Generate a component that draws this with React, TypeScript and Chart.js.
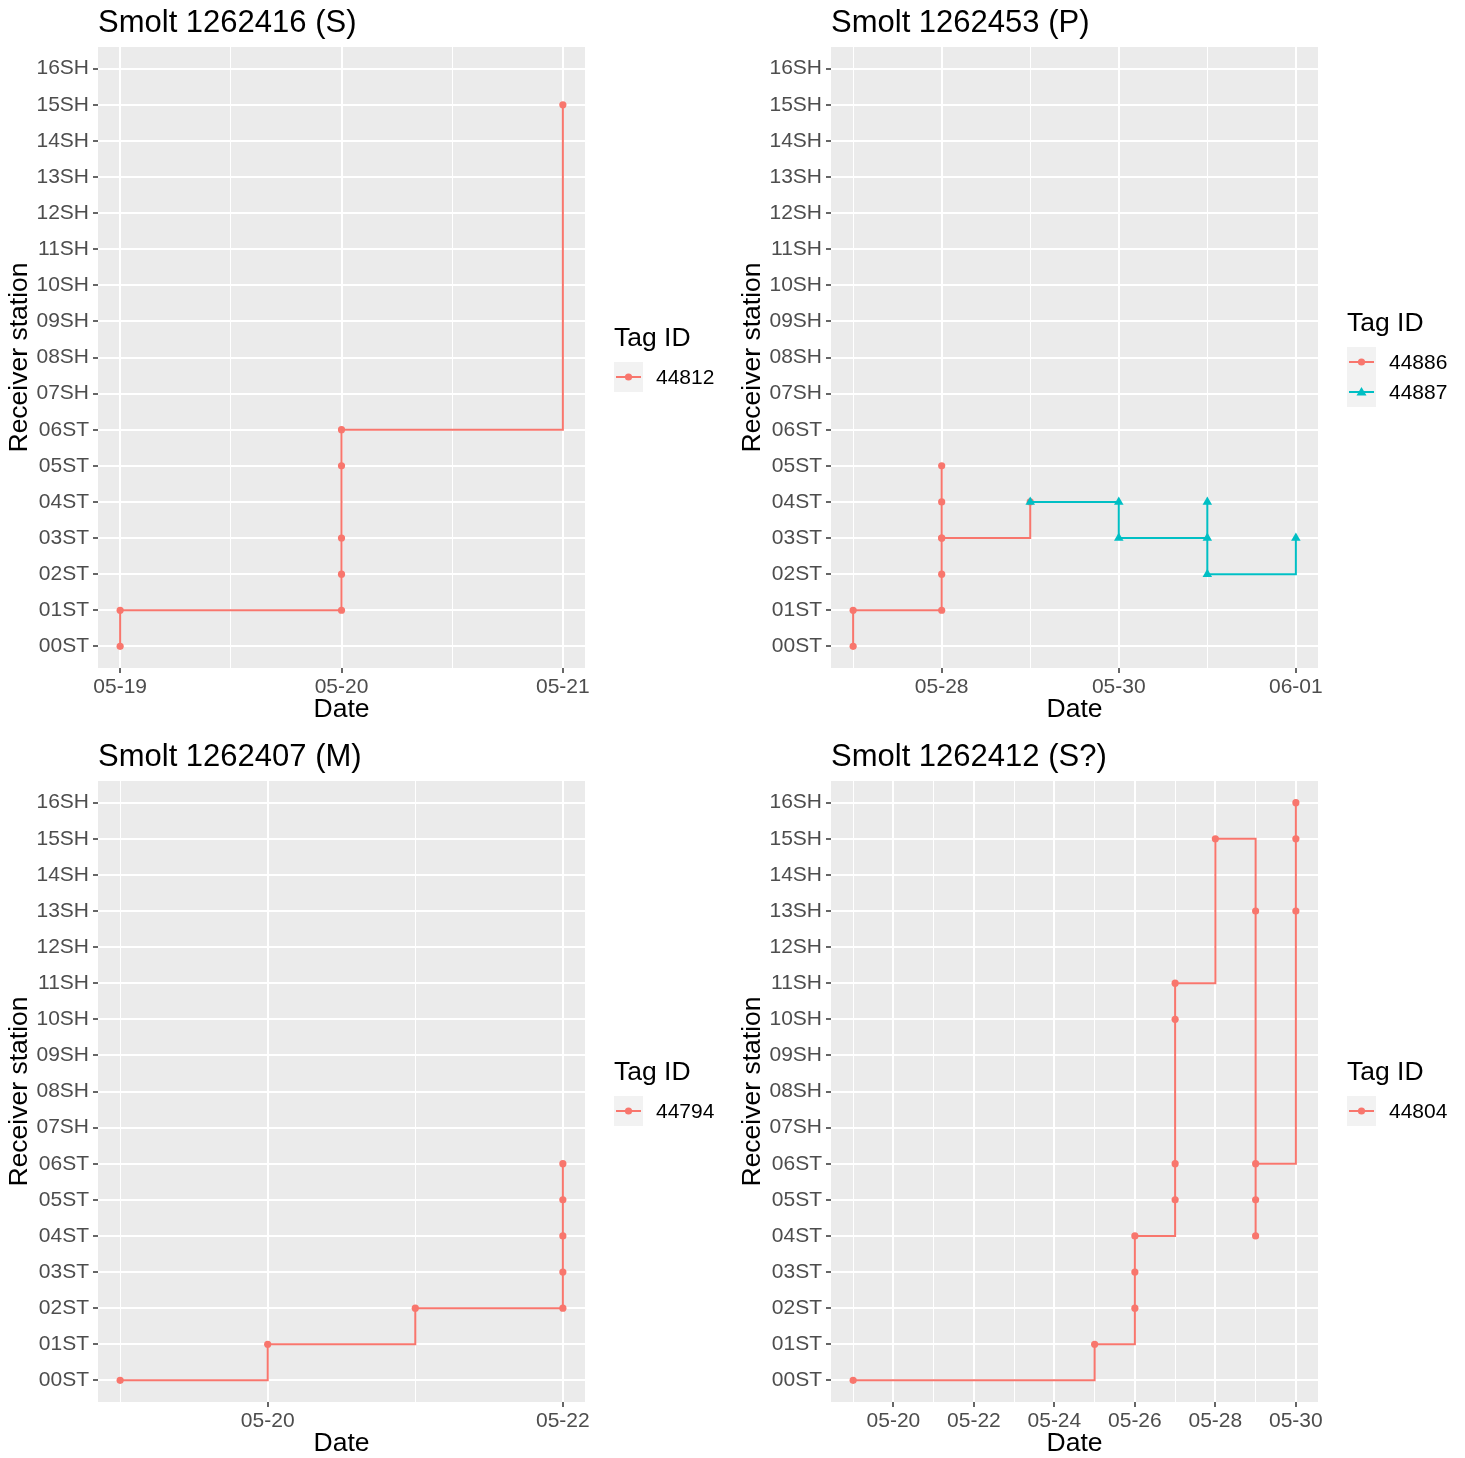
import React, { useEffect, useRef } from 'react';
import { Chart, registerables } from 'chart.js';

Chart.register(...registerables);

// ---------- DATA ----------
const STATIONS = [
  '00ST', '01ST', '02ST', '03ST', '04ST', '05ST', '06ST',
  '07SH', '08SH', '09SH', '10SH', '11SH', '12SH', '13SH', '14SH', '15SH', '16SH',
];

// Panel 1: Smolt 1262416 (S)
const P1_TITLE = 'Smolt 1262416 (S)';
const P1_X_TICKS = ['05-19', '05-20', '05-21'];
const P1_TAG = '44812';
const P1_DATES = ['05-19', '05-19', '05-20', '05-20', '05-20', '05-20', '05-20', '05-21'];
const P1_STATIONS = ['00ST', '01ST', '01ST', '02ST', '03ST', '05ST', '06ST', '15SH'];

// Panel 2: Smolt 1262453 (P)
const P2_TITLE = 'Smolt 1262453 (P)';
const P2_X_TICKS = ['05-28', '05-30', '06-01'];
const P2_TAG_A = '44886';
const P2_A_DATES = ['05-27', '05-27', '05-28', '05-28', '05-28', '05-28', '05-28', '05-28', '05-29'];
const P2_A_STATIONS = ['00ST', '01ST', '01ST', '02ST', '03ST', '04ST', '05ST', '03ST', '04ST'];
const P2_TAG_B = '44887';
const P2_B_DATES = ['05-29', '05-30', '05-30', '05-31', '05-31', '05-31', '06-01'];
const P2_B_STATIONS = ['04ST', '04ST', '03ST', '03ST', '04ST', '02ST', '03ST'];

// Panel 3: Smolt 1262407 (M)
const P3_TITLE = 'Smolt 1262407 (M)';
const P3_X_TICKS = ['05-20', '05-22'];
const P3_TAG = '44794';
const P3_DATES = ['05-19', '05-20', '05-21', '05-22', '05-22', '05-22', '05-22', '05-22'];
const P3_STATIONS = ['00ST', '01ST', '02ST', '02ST', '03ST', '04ST', '05ST', '06ST'];

// Panel 4: Smolt 1262412 (S?)
const P4_TITLE = 'Smolt 1262412 (S?)';
const P4_X_TICKS = ['05-20', '05-22', '05-24', '05-26', '05-28', '05-30'];
const P4_TAG = '44804';
const P4_DATES = [
  '05-19', '05-25', '05-26', '05-26', '05-26', '05-27', '05-27', '05-27', '05-27',
  '05-28', '05-29', '05-29', '05-29', '05-29', '05-30', '05-30', '05-30',
];
const P4_STATIONS = [
  '00ST', '01ST', '02ST', '03ST', '04ST', '05ST', '06ST', '10SH', '11SH',
  '15SH', '13SH', '04ST', '05ST', '06ST', '13SH', '15SH', '16SH',
];

// ---------- STYLE ----------
const RED = '#F8766D';
const TEAL = '#00BFC4';
const FONT = "'Liberation Sans', Arial, Helvetica, sans-serif";
const PANEL_BG = '#EBEBEB';

const PLOT_LEFT = 98;
const PLOT_RIGHT = 585;
const PLOT_TOP = 47;
const PLOT_BOTTOM = 668;
const CANVAS_W = 733;
const CANVAS_H = 724;
const X_SCALE_H = 55;
const TICK_SIZE = 21;
const AXIS_TITLE_SIZE = 26.5;

type Shape = 'circle' | 'triangle';
type Series = { tag: string; dates: string[]; stations: string[]; color: string; shape: Shape };
type PanelDef = { title: string; xTicks: string[]; series: Series[]; left: number; top: number };

const toDay = (md: string) => {
  const [m, d] = md.split('-').map(Number);
  return Date.UTC(2019, m - 1, d) / 86400000;
};
const fromDay = (v: number) => {
  const dt = new Date(Math.round(v * 86400000));
  const m = String(dt.getUTCMonth() + 1).padStart(2, '0');
  const d = String(dt.getUTCDate()).padStart(2, '0');
  return `${m}-${d}`;
};

const PANELS: PanelDef[] = [
  {
    title: P1_TITLE, xTicks: P1_X_TICKS, left: 0, top: 0,
    series: [{ tag: P1_TAG, dates: P1_DATES, stations: P1_STATIONS, color: RED, shape: 'circle' }],
  },
  {
    title: P2_TITLE, xTicks: P2_X_TICKS, left: 733, top: 0,
    series: [
      { tag: P2_TAG_A, dates: P2_A_DATES, stations: P2_A_STATIONS, color: RED, shape: 'circle' },
      { tag: P2_TAG_B, dates: P2_B_DATES, stations: P2_B_STATIONS, color: TEAL, shape: 'triangle' },
    ],
  },
  {
    title: P3_TITLE, xTicks: P3_X_TICKS, left: 0, top: 734,
    series: [{ tag: P3_TAG, dates: P3_DATES, stations: P3_STATIONS, color: RED, shape: 'circle' }],
  },
  {
    title: P4_TITLE, xTicks: P4_X_TICKS, left: 733, top: 734,
    series: [{ tag: P4_TAG, dates: P4_DATES, stations: P4_STATIONS, color: RED, shape: 'circle' }],
  },
];

const bgPlugin = {
  id: 'panelBg',
  beforeDraw(chart: any) {
    const { ctx, chartArea } = chart;
    ctx.save();
    ctx.fillStyle = PANEL_BG;
    ctx.fillRect(chartArea.left, chartArea.top, chartArea.right - chartArea.left, chartArea.bottom - chartArea.top);
    ctx.restore();
  },
};

function Panel({ def }: { def: PanelDef }) {
  const ref = useRef<HTMLCanvasElement>(null);

  useEffect(() => {
    if (!ref.current) return;
    const allX = def.series.flatMap((s) => s.dates.map(toDay));
    const dMin = Math.min(...allX);
    const dMax = Math.max(...allX);
    const span = dMax - dMin;
    const xMin = dMin - span * 0.05;
    const xMax = dMax + span * 0.05;
    const majors = def.xTicks.map(toDay);
    const step = majors.length > 1 ? majors[1] - majors[0] : 1;
    const minors: number[] = [];
    for (let i = 0; i < majors.length - 1; i++) minors.push((majors[i] + majors[i + 1]) / 2);
    const before = majors[0] - step / 2;
    const after = majors[majors.length - 1] + step / 2;
    if (before >= xMin) minors.push(before);
    if (after <= xMax) minors.push(after);
    const majorSet = new Set(majors);
    const isMajor = (v: number) => majorSet.has(v);

    const datasets = def.series.map((s, i) => ({
      label: s.tag,
      data: s.dates.map((d, j) => ({ x: toDay(d), y: STATIONS.indexOf(s.stations[j]) })),
      borderColor: s.color,
      backgroundColor: s.color,
      pointBackgroundColor: s.color,
      pointBorderColor: s.color,
      pointBorderWidth: 0,
      pointStyle: s.shape,
      pointRadius: s.shape === 'triangle' ? 5.5 : 3.6,
      borderWidth: 2,
      stepped: 'before' as const,
      fill: false,
      order: def.series.length - i,
    }));

    const chart = new Chart(ref.current, {
      type: 'line',
      data: { datasets },
      plugins: [bgPlugin],
      options: {
        animation: false,
        responsive: false,
        maintainAspectRatio: false,
        layout: {
          padding: {
            top: PLOT_TOP,
            left: 0,
            right: CANVAS_W - PLOT_RIGHT,
            bottom: CANVAS_H - PLOT_BOTTOM - X_SCALE_H,
          },
        },
        plugins: {
          legend: { display: false },
          tooltip: { enabled: false },
          title: { display: false },
        },
        scales: {
          x: {
            type: 'linear',
            min: xMin,
            max: xMax,
            afterBuildTicks: (scale: any) => {
              scale.ticks = [...majors, ...minors].sort((a, b) => a - b).map((v) => ({ value: v }));
            },
            afterFit: (scale: any) => {
              scale.height = X_SCALE_H;
            },
            border: { display: false },
            grid: {
              color: '#FFFFFF',
              lineWidth: (ctx: any) => (ctx.tick && isMajor(ctx.tick.value) ? 2 : 1),
              tickColor: (ctx: any) => (ctx.tick && isMajor(ctx.tick.value) ? '#333333' : 'rgba(0,0,0,0)'),
              tickLength: 5,
              tickWidth: 1.5,
              drawTicks: true,
            },
            ticks: {
              autoSkip: false,
              maxRotation: 0,
              minRotation: 0,
              padding: 2,
              color: '#4D4D4D',
              font: { family: FONT, size: TICK_SIZE },
              callback: (value: any) => (isMajor(Number(value)) ? fromDay(Number(value)) : ''),
            },
            title: {
              display: true,
              text: 'Date',
              color: '#000000',
              font: { family: FONT, size: AXIS_TITLE_SIZE, lineHeight: 1 },
              padding: { top: 0, bottom: 0 },
            },
          },
          y: {
            type: 'linear',
            min: -0.6,
            max: STATIONS.length - 1 + 0.6,
            afterBuildTicks: (scale: any) => {
              scale.ticks = STATIONS.map((_, i) => ({ value: i }));
            },
            afterFit: (scale: any) => {
              scale.width = PLOT_LEFT;
            },
            border: { display: false },
            grid: {
              color: '#FFFFFF',
              lineWidth: 2,
              tickColor: '#333333',
              tickLength: 5,
              tickWidth: 1.5,
              drawTicks: true,
            },
            ticks: {
              autoSkip: false,
              padding: 4,
              color: '#4D4D4D',
              font: { family: FONT, size: TICK_SIZE },
              callback: (value: any) => STATIONS[Math.round(Number(value))] ?? '',
            },
            title: {
              display: true,
              text: 'Receiver station',
              color: '#000000',
              font: { family: FONT, size: AXIS_TITLE_SIZE, lineHeight: 1 },
              padding: { top: 6, bottom: 0 },
            },
          },
        },
      } as any,
    });
    return () => chart.destroy();
  }, [def]);

  const n = def.series.length;
  const blockH = 39 + 30 * n;
  const blockTop = 357 - blockH / 2;

  return (
    <div style={{ position: 'absolute', left: def.left, top: def.top, width: CANVAS_W, height: CANVAS_H }}>
      <canvas ref={ref} width={CANVAS_W} height={CANVAS_H} style={{ display: 'block', width: CANVAS_W, height: CANVAS_H }} />
      <div
        style={{
          position: 'absolute', left: PLOT_LEFT, top: 6, fontFamily: FONT, fontSize: 31,
          lineHeight: '31px', color: '#000', whiteSpace: 'nowrap',
        }}
      >
        {def.title}
      </div>
      <div style={{ position: 'absolute', left: 614, top: blockTop + 1, fontFamily: FONT, color: '#000' }}>
        <div style={{ fontSize: AXIS_TITLE_SIZE, lineHeight: '26px', whiteSpace: 'nowrap' }}>Tag ID</div>
      </div>
      <div style={{ position: 'absolute', left: 614, top: blockTop + 39 }}>
        {def.series.map((s) => (
          <div key={s.tag} style={{ display: 'flex', alignItems: 'center', height: 30 }}>
            <svg width={29} height={30} style={{ display: 'block' }}>
              <rect x={0} y={0} width={29} height={30} fill="#F2F2F2" />
              <line x1={2} x2={27} y1={15} y2={15} stroke={s.color} strokeWidth={2} />
              {s.shape === 'circle' ? (
                <circle cx={14.5} cy={15} r={3.6} fill={s.color} />
              ) : (
                <polygon points="14.5,10 19.5,18.5 9.5,18.5" fill={s.color} />
              )}
            </svg>
            <span
              style={{
                marginLeft: 13, fontFamily: FONT, fontSize: TICK_SIZE, lineHeight: '30px',
                color: '#000', whiteSpace: 'nowrap',
              }}
            >
              {s.tag}
            </span>
          </div>
        ))}
      </div>
    </div>
  );
}

export default function App() {
  return (
    <div style={{ position: 'absolute', left: 0, top: 0, width: 1465, height: 1458, background: '#FFFFFF', overflow: 'hidden' }}>
      {PANELS.map((p) => (
        <Panel key={p.title} def={p} />
      ))}
    </div>
  );
}
